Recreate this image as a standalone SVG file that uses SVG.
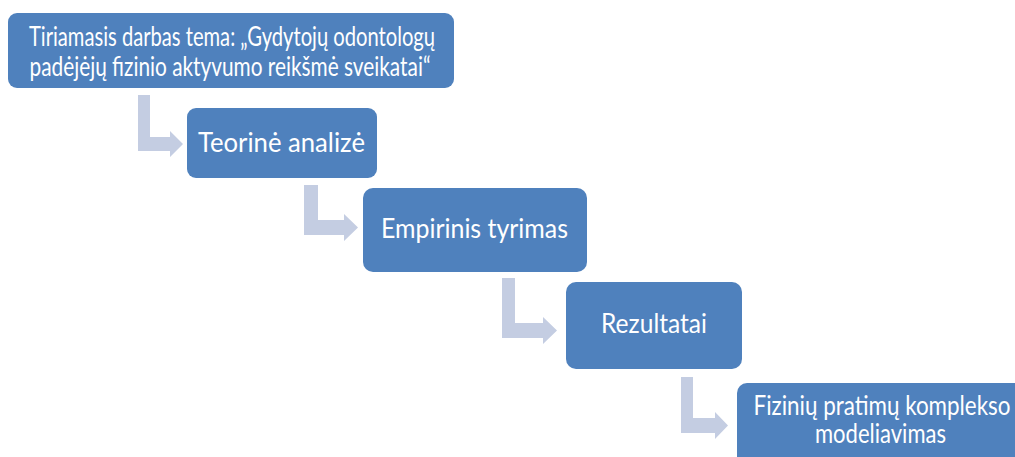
<svg xmlns="http://www.w3.org/2000/svg" width="1015" height="457" viewBox="0 0 1015 457">
<style>
.box{fill:#4f81bd;}
.arr{fill:#c4cde2;}
.t{font-family:Lato,"Open Sans","Liberation Sans",sans-serif;font-size:26px;fill:#ffffff;text-anchor:middle;}
</style>
<rect width="1015" height="457" fill="#ffffff"/>
<g id="connectors">
<path class="arr" d="M138,95 H150 V137 H170 V131 L183,144 L170,157 V151 H138 Z"/>
<path class="arr" d="M304,185 H318 V220 H344 V214 L358,227.5 L344,241 V235 H304 Z"/>
<path class="arr" d="M502,278 H515 V323 H543 V317 L557,330.5 L543,344 V338 H502 Z"/>
<path class="arr" d="M681,377 H693 V418 H715 V412 L728,425.5 L715,439 V433 H681 Z"/>
</g>
<g id="node1">
<rect class="box" x="8" y="13" width="446" height="75" rx="9"/>
<text class="t" x="232" y="46" textLength="406" lengthAdjust="spacingAndGlyphs">Tiriamasis darbas tema: „Gydytojų odontologų</text>
<text class="t" x="230" y="76" textLength="401" lengthAdjust="spacingAndGlyphs">padėjėjų fizinio aktyvumo reikšmė sveikatai“</text>
</g>
<g id="node2">
<rect class="box" x="187" y="108" width="190" height="70" rx="9"/>
<text class="t" x="281.5" y="152" textLength="167" lengthAdjust="spacingAndGlyphs">Teorinė analizė</text>
</g>
<g id="node3">
<rect class="box" x="363" y="188" width="224" height="84" rx="10"/>
<text class="t" x="474.5" y="238" textLength="187" lengthAdjust="spacingAndGlyphs">Empirinis tyrimas</text>
</g>
<g id="node4">
<rect class="box" x="566" y="282" width="176" height="87" rx="10"/>
<text class="t" x="654" y="333" textLength="106" lengthAdjust="spacingAndGlyphs">Rezultatai</text>
</g>
<g id="node5">
<rect class="box" x="737" y="383" width="292" height="90" rx="10"/>
<text class="t" x="882" y="415" textLength="257" lengthAdjust="spacingAndGlyphs">Fizinių pratimų komplekso</text>
<text class="t" x="880.5" y="443" textLength="131" lengthAdjust="spacingAndGlyphs">modeliavimas</text>
</g>
</svg>
